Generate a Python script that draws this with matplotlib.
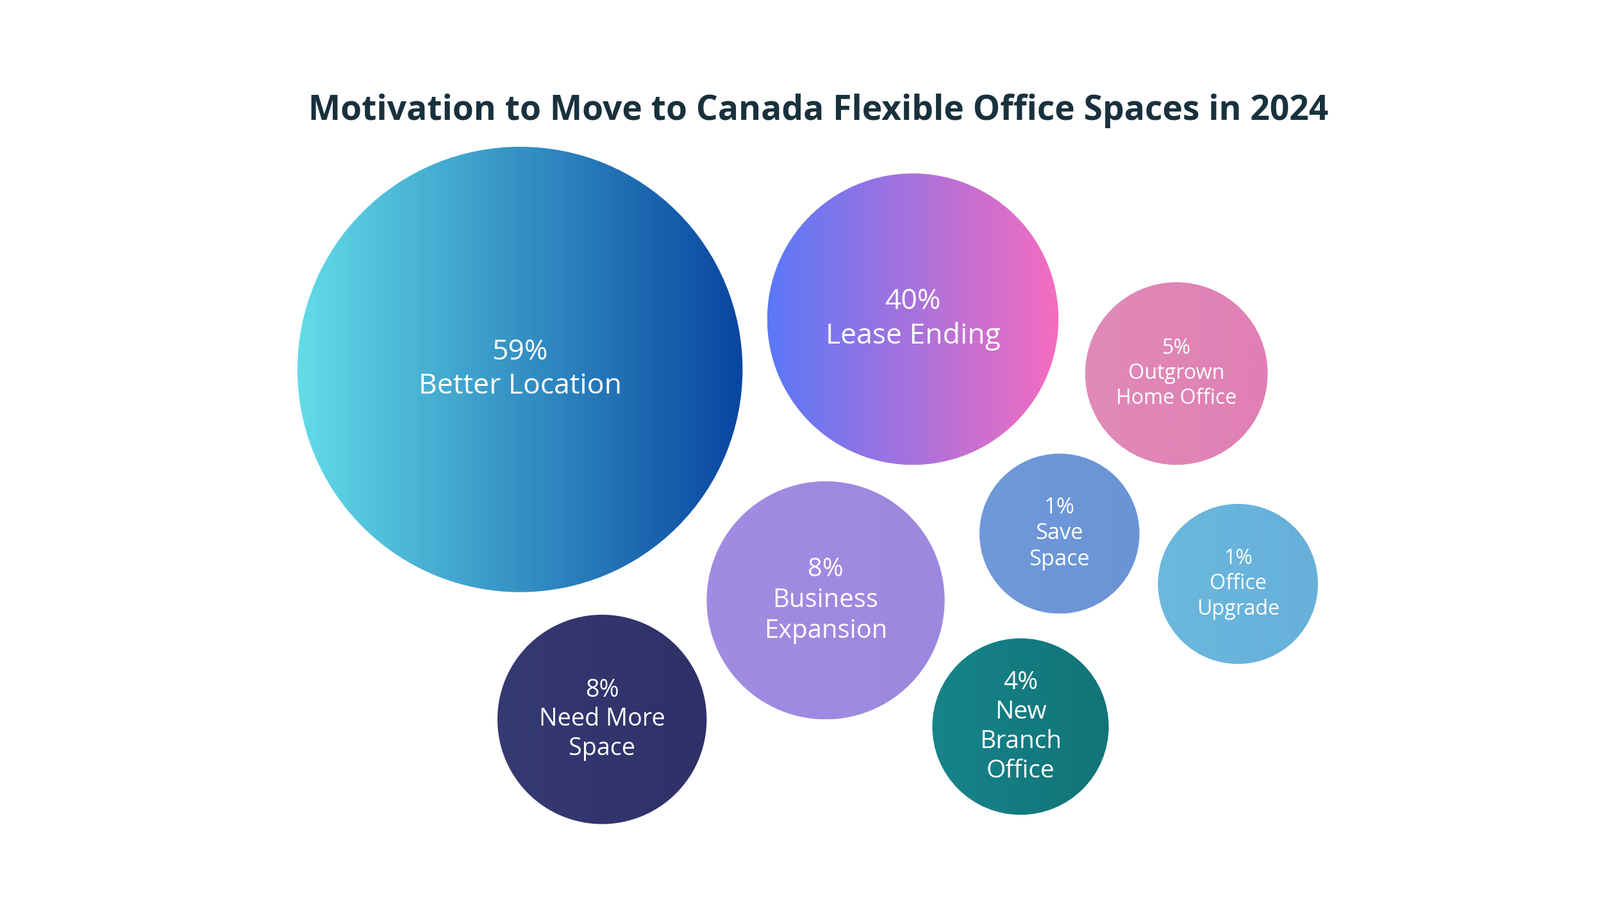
import numpy as np
import matplotlib.pyplot as plt
from matplotlib.patches import Circle
from matplotlib.colors import LinearSegmentedColormap

title = "Motivation to Move to Canada Flexible Office Spaces in 2024"
labels = ["Better Location", "Lease Ending", "Outgrown\nHome Office", "Save\nSpace",
          "Office\nUpgrade", "Business\nExpansion", "Need More\nSpace", "New\nBranch\nOffice"]
shares = [59, 40, 5, 1, 1, 8, 8, 4]

# layout (pixel coords of a 1560x877 canvas), bubble radius, colours, font size
centers = [(507, 360), (890, 311), (1147, 364), (1033, 520), (1207, 569),
           (805, 585), (587, 701), (995, 708)]
radii = [217, 142, 89, 78, 78, 116, 102, 86]
colors = [("#62dce8", "#0846a0"), ("#5a78f8", "#f66cc0"), ("#e08ab8", "#e07fb4"),
          ("#7099da", "#6a94d6"), ("#6cb8de", "#66b0da"), ("#a08ce2", "#9c88de"),
          ("#363a72", "#2f3068"), ("#17848a", "#117478")]
fsizes = [20, 20, 14.5, 15.5, 14.5, 18, 17, 17.5]

fig = plt.figure(figsize=(15.6, 8.775), dpi=160)
ax = fig.add_axes([0, 0, 1, 1])
ax.set_xlim(0, 1560)
ax.set_ylim(877, 0)
ax.axis("off")

grad = np.linspace(0, 1, 256).reshape(1, -1)
for (cx, cy), r, (c1, c2), lab, v, fs in zip(centers, radii, colors, labels, shares, fsizes):
    cmap = LinearSegmentedColormap.from_list("g", [c1, c2])
    im = ax.imshow(grad, cmap=cmap, extent=(cx - r, cx + r, cy + r, cy - r),
                   aspect="auto", zorder=1)
    clip = Circle((cx, cy), r, transform=ax.transData, facecolor="none", edgecolor="none")
    ax.add_patch(clip)
    im.set_clip_path(clip)
    ax.text(cx, cy, f"{v}%\n{lab}", ha="center", va="center", color="white",
            fontsize=fs, family="Open Sans", linespacing=1.25, zorder=2)

ax.text(798, 108, title, ha="center", va="center", fontsize=24, fontweight="bold",
        family="Open Sans", color="#18313d")
ax.set_xlim(0, 1560)
ax.set_ylim(877, 0)
fig.savefig("out.png", dpi=160)
